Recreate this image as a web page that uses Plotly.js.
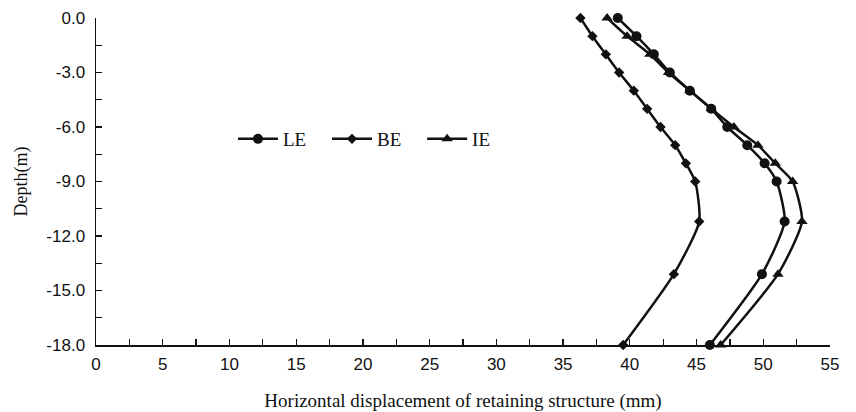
<!DOCTYPE html>
<html>
<head>
<meta charset="utf-8">
<script src="https://cdn.plot.ly/plotly-3.0.1.min.js"></script>
<style>html,body{margin:0;padding:0;background:#fff;}#chart{width:856px;height:412px;}</style>
</head>
<body>
<div id="chart"></div>
<script>
const depth = [0, -1, -2, -3, -4, -5, -6, -7, -8, -9, -11.2, -14.1, -18];
const LE = [39.1, 40.5, 41.8, 43.0, 44.5, 46.1, 47.3, 48.8, 50.1, 51.0, 51.6, 49.9, 46.0];
const BE = [36.3, 37.2, 38.2, 39.2, 40.3, 41.3, 42.3, 43.4, 44.2, 44.9, 45.2, 43.3, 39.5];
const IE = [38.3, 39.8, 41.5, 42.9, 44.5, 46.1, 47.8, 49.6, 50.9, 52.2, 52.9, 51.1, 46.8];
const names = ['LE', 'BE', 'IE'];
const yTickVals = [0, -3, -6, -9, -12, -15, -18];
const yTickText = ['0.0', '-3.0', '-6.0', '-9.0', '-12.0', '-15.0', '-18.0'];

const col = '#111';
function tr(x, name, symbol, size, leg) {
  return {
    x: x, y: depth, name: name, type: 'scatter', mode: 'lines+markers',
    cliponaxis: false, legend: leg,
    line: {color: col, width: 2.5, shape: 'spline', smoothing: 0.6},
    marker: {symbol: symbol, size: size, color: col}
  };
}
const data = [
  tr(LE, names[0], 'circle', 10, 'legend'),
  tr(BE, names[1], 'diamond', 8, 'legend2'),
  tr(IE, names[2], 'triangle-up', 10, 'legend3')
];
const tickFont = {family: 'Liberation Sans, Arial, sans-serif', size: 17, color: '#111'};
const serif = 'Liberation Serif, Times New Roman, serif';
function leg(x) {
  return {orientation: 'h', x: x, y: 0.63, xanchor: 'left', yanchor: 'middle',
    font: {family: serif, size: 19, color: '#111'},
    bgcolor: 'rgba(0,0,0,0)', itemwidth: 40};
}
const layout = {
  width: 856, height: 412,
  margin: {l: 96, r: 26, t: 18, b: 67},
  paper_bgcolor: '#fff', plot_bgcolor: '#fff',
  showlegend: true,
  legend: leg(0.1866),
  legend2: leg(0.3147),
  legend3: leg(0.4443),
  xaxis: {
    range: [0, 55], dtick: 5, tick0: 0, showgrid: false, zeroline: false,
    showline: true, linecolor: '#111', linewidth: 1.5,
    ticks: 'inside', ticklen: 6, tickcolor: '#111', tickwidth: 1.2,
    minor: {dtick: 2.5, ticks: 'inside', ticklen: 6, tickcolor: '#111', showgrid: false},
    tickfont: tickFont, ticklabelstandoff: 3,
    title: {text: 'Horizontal displacement of retaining structure (mm)', standoff: 21,
      font: {family: serif, size: 19, color: '#111'}}
  },
  yaxis: {
    range: [-18, 0], tickmode: 'array', tickvals: yTickVals, ticktext: yTickText,
    showgrid: false, zeroline: false,
    showline: true, linecolor: '#111', linewidth: 1.5,
    ticks: 'inside', ticklen: 6, tickcolor: '#111', tickwidth: 1.2,
    minor: {dtick: 1.5, tick0: 0, ticks: 'inside', ticklen: 6, tickcolor: '#111', showgrid: false},
    tickfont: tickFont, ticklabelstandoff: 6,
    title: {text: 'Depth(m)', standoff: 14,
      font: {family: serif, size: 18, color: '#111'}}
  }
};
Plotly.newPlot('chart', data, layout, {displayModeBar: false, staticPlot: true});
</script>
</body>
</html>
